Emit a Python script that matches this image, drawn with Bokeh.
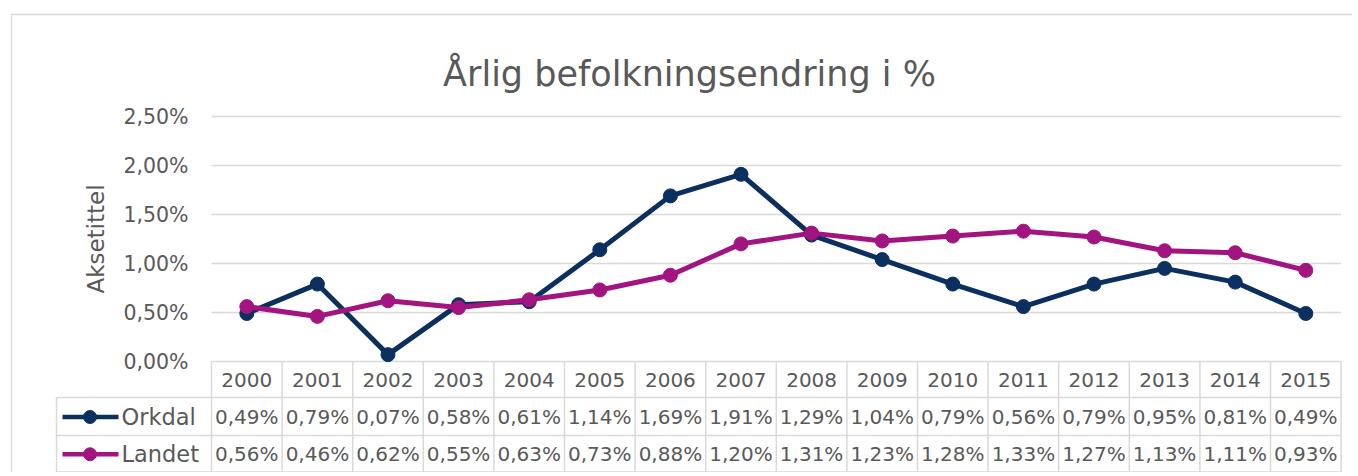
from bokeh.plotting import figure
from bokeh.models import Range1d, LinearAxis, FixedTicker, ColumnDataSource, CustomJSTickFormatter
from bokeh.core.properties import value
from bokeh.embed import file_html
from bokeh.resources import INLINE

# ---------------- data ----------------
years = ["2000", "2001", "2002", "2003", "2004", "2005", "2006", "2007",
         "2008", "2009", "2010", "2011", "2012", "2013", "2014", "2015"]
orkdal = [0.49, 0.79, 0.07, 0.58, 0.61, 1.14, 1.69, 1.91,
          1.29, 1.04, 0.79, 0.56, 0.79, 0.95, 0.81, 0.49]
landet = [0.56, 0.46, 0.62, 0.55, 0.63, 0.73, 0.88, 1.20,
          1.31, 1.23, 1.28, 1.33, 1.27, 1.13, 1.11, 0.93]
series_names = ["Orkdal", "Landet"]
series_colors = ["#0B2F5E", "#A2147F"]
y_ticks = [0.0, 0.5, 1.0, 1.5, 2.0, 2.5]
title_text = "Årlig befolkningsendring i %"
axis_title = "Aksetittel"

# ---------------- style / layout ----------------
FONT = "DejaVu Sans"
TEXT = "#595959"
GRID = "#D9D9D9"

W, H = 1352, 472
PAGE_X0, PAGE_Y0 = 0, 0
PLOT_LEFT, PLOT_RIGHT = 211.0, 1340.6
PLOT_TOP, PLOT_BOTTOM = 116.0, 361.0
ncat = len(years)
col_px = (PLOT_RIGHT - PLOT_LEFT) / ncat
pct_px = (PLOT_BOTTOM - PLOT_TOP) / (y_ticks[-1] - y_ticks[0])


def X(px):
    return -0.5 + (px - PLOT_LEFT) / col_px


def Y(py):
    return (PLOT_BOTTOM - py) / pct_px


p = figure(width=W, height=H,
           x_range=Range1d(X(PAGE_X0), X(PAGE_X0 + W)),
           y_range=Range1d(Y(PAGE_Y0 + H), Y(PAGE_Y0)),
           x_axis_type=None, y_axis_type=None,
           output_backend="svg", toolbar_location=None)
p.min_border_left = 0
p.min_border_right = 0
p.min_border_top = 0
p.min_border_bottom = 0
p.outline_line_color = None
p.background_fill_color = "white"
p.border_fill_color = "white"

# chart border (left and top visible)
BX, BY = 11, 14
p.segment(x0=[X(BX), X(BX)], y0=[Y(BY), Y(BY)],
          x1=[X(BX), X(PAGE_X0 + W + 5)], y1=[Y(PAGE_Y0 + H + 5), Y(BY)],
          line_color=GRID, line_width=1.3)

# gridlines
p.segment(x0=[-0.5] * len(y_ticks), x1=[ncat - 0.5] * len(y_ticks),
          y0=y_ticks, y1=y_ticks, line_color=GRID, line_width=1.5)

# data table grid
ROW1_TOP, ROW2_TOP, TABLE_BOTTOM = 397, 435, 471.5
LEG_LEFT = 56
vx = [-0.5 + k for k in range(ncat + 1)]
p.segment(x0=vx, x1=vx, y0=[0.0] * len(vx), y1=[Y(TABLE_BOTTOM)] * len(vx),
          line_color=GRID, line_width=1.5)
p.segment(x0=[X(LEG_LEFT)], x1=[X(LEG_LEFT)], y0=[Y(ROW1_TOP)], y1=[Y(TABLE_BOTTOM)],
          line_color=GRID, line_width=1.5)
hy = [Y(ROW1_TOP), Y(ROW2_TOP), Y(TABLE_BOTTOM)]
p.segment(x0=[X(LEG_LEFT)] * 3, x1=[ncat - 0.5] * 3, y0=hy, y1=hy,
          line_color=GRID, line_width=1.5)

xs = list(range(ncat))
hdr_y = Y((PLOT_BOTTOM + ROW1_TOP) / 2 + 0.5)
row_y = [Y((ROW1_TOP + ROW2_TOP) / 2 + 0.5), Y((ROW2_TOP + TABLE_BOTTOM) / 2 + 0.5)]


def fmt(v):
    return f"{v:.2f}".replace(".", ",") + "%"


p.text(x=xs, y=[hdr_y] * ncat, text=years, text_font=value(FONT),
       text_font_size=value("20px"), text_color=TEXT,
       text_align="center", text_baseline="middle")

for vals, ry in zip([orkdal, landet], row_y):
    p.text(x=xs, y=[ry] * ncat, text=[fmt(v) for v in vals], text_font=value(FONT),
           text_font_size=value("20px"), text_color=TEXT,
           text_align="center", text_baseline="middle")

# legend keys inside the table
for name, color, ry in zip(series_names, series_colors, row_y):
    p.segment(x0=[X(62)], x1=[X(118)], y0=[ry], y1=[ry], line_color=color, line_width=4.5)
    p.scatter(x=[X(89.5)], y=[ry], size=13, fill_color=color, line_color=color)
    p.text(x=[X(121)], y=[ry], text=[name], text_font=value(FONT),
           text_font_size=value("22.5px"), text_color=TEXT,
           text_align="left", text_baseline="middle")

# series
for vals, color in zip([orkdal, landet], series_colors):
    src = ColumnDataSource(dict(x=xs, y=vals))
    p.line("x", "y", source=src, line_color=color, line_width=5, line_join="round")
    p.scatter("x", "y", source=src, size=14, fill_color=color, line_color=color)

# title
p.text(x=[X(689)], y=[Y(73)], text=[title_text], text_font=value(FONT),
       text_font_size=value("35px"), text_color=TEXT,
       text_align="center", text_baseline="alphabetic")

# y axis
yaxis = LinearAxis(fixed_location=-0.5, ticker=FixedTicker(ticks=y_ticks),
                   bounds=(y_ticks[0], y_ticks[-1]),
                   formatter=CustomJSTickFormatter(code="return tick.toFixed(2).replace('.', ',') + '%';"),
                   axis_line_color=None, major_tick_line_color=None, minor_tick_line_color=None,
                   major_tick_out=0, major_tick_in=0, major_label_standoff=23,
                   major_label_text_font=FONT, major_label_text_font_size="20.5px",
                   major_label_text_color=TEXT,
                   axis_label=axis_title, axis_label_text_font=FONT,
                   axis_label_text_font_size="23px", axis_label_text_font_style="normal",
                   axis_label_text_color=TEXT, axis_label_standoff=11)
p.add_layout(yaxis, "left")

open("out.html", "w").write(file_html(p, INLINE))
